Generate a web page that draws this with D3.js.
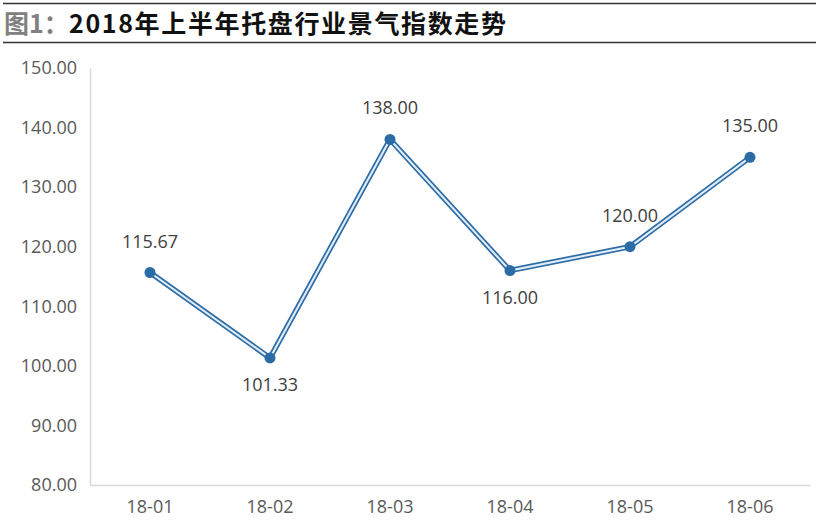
<!DOCTYPE html>
<html>
<head>
<meta charset="utf-8">
<script src="https://cdn.jsdelivr.net/npm/d3@7"></script>
<style>
  body { margin: 0; background: #fff; }
  svg { display: block; }
</style>
</head>
<body>
<script>
// data
let months = ['18-01', '18-02', '18-03', '18-04', '18-05', '18-06']
let values = [115.67, 101.33, 138.00, 116.00, 120.00, 135.00]
let labelPos = ['above', 'below', 'above', 'below', 'above', 'above']
let yTicks = [80, 90, 100, 110, 120, 130, 140, 150]

let width = 819
let height = 525
let margin = { top: 68, bottom: 40, left: 90, right: 9 }
let font = '"Open Sans", sans-serif'

const svg = d3.select('body')
  .append('svg')
  .attr('width', width)
  .attr('height', height)

// title and rules
svg.append('line')
  .attr('x1', 3).attr('x2', 816).attr('y1', 3.5).attr('y2', 3.5)
  .attr('stroke', '#333').attr('stroke-width', 1.5)
svg.append('line')
  .attr('x1', 3).attr('x2', 816).attr('y1', 42.5).attr('y2', 42.5)
  .attr('stroke', '#333').attr('stroke-width', 1.5)

svg.append('text')
  .attr('x', 4).attr('y', 33)
  .attr('fill', '#808080')
  .style('font-family', '"Noto Sans CJK SC", sans-serif')
  .style('font-size', '25px')
  .style('font-weight', 'bold')
  .text('图1：')
svg.append('text')
  .attr('x', 69).attr('y', 33)
  .attr('fill', '#111')
  .attr('textLength', 437)
  .style('font-family', '"Noto Sans CJK SC", sans-serif')
  .style('font-size', '25px')
  .style('font-weight', 'bold')
  .text('2018年上半年托盘行业景气指数走势')

// scales
var x = d3.scaleBand()
  .domain(months)
  .range([margin.left, width - margin.right])

var y = d3.scaleLinear()
  .domain([80, 150])
  .range([height - margin.bottom, margin.top])

// y axis
const yAxis = svg.append('g')
  .attr('transform', `translate(${margin.left},0)`)
  .call(d3.axisLeft(y).tickValues(yTicks).tickSize(0).tickPadding(13)
    .tickFormat(d3.format('.2f')))
yAxis.select('.domain').attr('stroke', '#d9d9d9').attr('stroke-width', 1.5)
yAxis.selectAll('text')
  .attr('fill', '#595959')
  .style('font-family', font)
  .style('font-size', '18px')

// x axis
const xAxis = svg.append('g')
  .attr('transform', `translate(0,${height - margin.bottom})`)
  .call(d3.axisBottom(x).tickSize(0).tickPadding(15))
xAxis.select('.domain').attr('stroke', '#d9d9d9').attr('stroke-width', 1.5)
xAxis.selectAll('text')
  .attr('fill', '#595959')
  .style('font-family', font)
  .style('font-size', '18px')

// line: dark outline with a light core
let line = d3.line()
  .x((d, i) => x(months[i]) + x.bandwidth() / 2)
  .y(d => y(d))

svg.append('path')
  .datum(values)
  .attr('d', line)
  .attr('fill', 'none')
  .attr('stroke', '#2f6ea6')
  .attr('stroke-width', 5.5)
svg.append('path')
  .datum(values)
  .attr('d', line)
  .attr('fill', 'none')
  .attr('stroke', '#e4eef8')
  .attr('stroke-width', 2)

// markers
svg.append('g')
  .selectAll('circle')
  .data(values)
  .join('circle')
  .attr('cx', (d, i) => x(months[i]) + x.bandwidth() / 2)
  .attr('cy', d => y(d))
  .attr('r', 5.5)
  .attr('fill', '#2b6ca6')

// data labels
svg.append('g')
  .selectAll('text')
  .data(values)
  .join('text')
  .attr('x', (d, i) => x(months[i]) + x.bandwidth() / 2)
  .attr('y', (d, i) => labelPos[i] == 'above' ? y(d) - 25 : y(d) + 33)
  .attr('text-anchor', 'middle')
  .attr('fill', '#404040')
  .style('font-family', font)
  .style('font-size', '18px')
  .text(d => d.toFixed(2))
</script>
</body>
</html>
